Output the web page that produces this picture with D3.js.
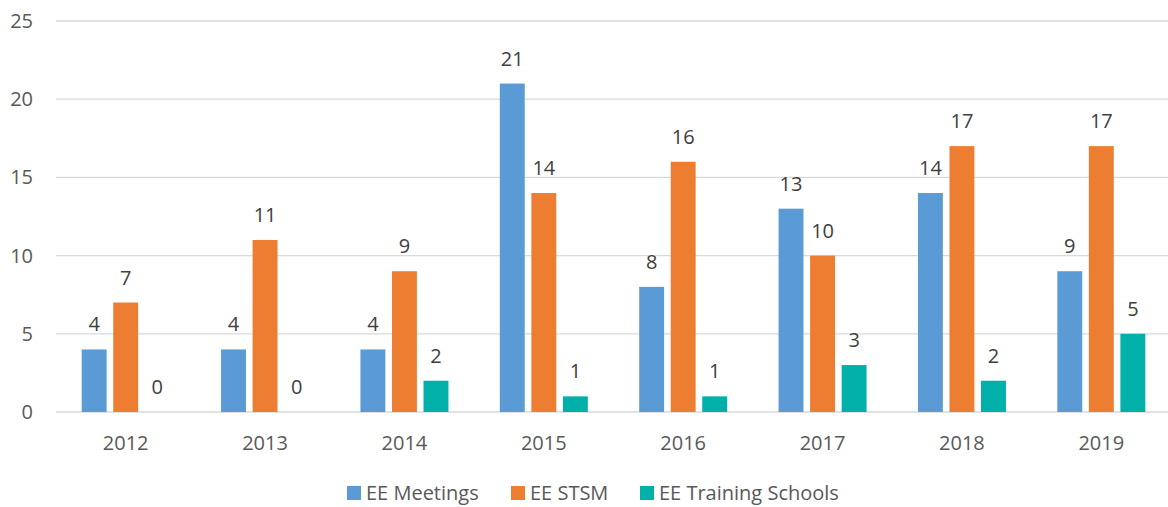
<!DOCTYPE html>
<html>
<head>
<meta charset="utf-8">
<script src="https://cdn.jsdelivr.net/npm/d3@7"></script>
<style>
  body { margin: 0; background: #fff; }
  svg text { font-family: "Open Sans", sans-serif; }
</style>
</head>
<body>
<svg id="chart" width="1168" height="507"></svg>
<script>
// data
const years = ["2012", "2013", "2014", "2015", "2016", "2017", "2018", "2019"];
const seriesNames = ["EE Meetings", "EE STSM", "EE Training Schools"];
const meetings = [4, 4, 4, 21, 8, 13, 14, 9];
const stsm = [7, 11, 9, 14, 16, 10, 17, 17];
const trainingSchools = [0, 0, 2, 1, 1, 3, 2, 5];
const yTicks = [0, 5, 10, 15, 20, 25];
const colors = ["#5B9BD5", "#ED7D31", "#00B0A9"];

const seriesValues = [meetings, stsm, trainingSchools];
const rows = years.map((y, i) => ({
    year: y,
    values: seriesNames.map((s, j) => ({ key: s, idx: j, value: seriesValues[j][i] }))
}));

const svg = d3.select("#chart");

// ---------------------------
// SCALES
// ---------------------------
const xScale = d3.scaleBand()
    .domain(years)
    .range([56, 1171]);

const xInner = d3.scaleBand()
    .domain(seriesNames)
    .range([xScale.bandwidth() / 2 - 44, xScale.bandwidth() / 2 + 44])
    .paddingInner(0.21);

const yScale = d3.scaleLinear()
    .domain([0, 25])
    .range([412, 21]);

// gridlines
svg.append("g")
    .selectAll("line")
    .data(yTicks)
    .join("line")
    .attr("x1", 56)
    .attr("x2", 1168)
    .attr("y1", d => yScale(d))
    .attr("y2", d => yScale(d))
    .attr("stroke", "#D9D9D9")
    .attr("stroke-width", 1.3);

// y axis labels
svg.append("g")
    .selectAll("text")
    .data(yTicks)
    .join("text")
    .attr("x", 33)
    .attr("y", d => yScale(d))
    .attr("dy", "0.35em")
    .attr("text-anchor", "end")
    .attr("font-size", "20px")
    .attr("fill", "#595959")
    .text(d => d);

// x axis labels
svg.append("g")
    .selectAll("text")
    .data(years)
    .join("text")
    .attr("x", d => xScale(d) + xScale.bandwidth() / 2)
    .attr("y", 450)
    .attr("text-anchor", "middle")
    .attr("font-size", "20px")
    .attr("fill", "#595959")
    .text(d => d);

// bars
const groups = svg.append("g")
    .selectAll("g")
    .data(rows)
    .join("g")
    .attr("transform", d => `translate(${xScale(d.year)},0)`);

groups.selectAll("rect")
    .data(d => d.values)
    .join("rect")
    .attr("x", d => xInner(d.key))
    .attr("width", xInner.bandwidth())
    .attr("y", d => yScale(d.value))
    .attr("height", d => yScale(0) - yScale(d.value))
    .attr("fill", d => colors[d.idx]);

// data labels
groups.selectAll("text")
    .data(d => d.values)
    .join("text")
    .attr("x", d => xInner(d.key) + xInner.bandwidth() / 2)
    .attr("y", d => yScale(d.value) - 18)
    .attr("text-anchor", "middle")
    .attr("font-size", "20px")
    .attr("fill", "#404040")
    .text(d => d.value);

// legend
const legendX = [347, 511, 640];
const legend = svg.append("g")
    .selectAll("g")
    .data(seriesNames)
    .join("g")
    .attr("transform", (d, i) => `translate(${legendX[i]},486)`);

legend.append("rect")
    .attr("width", 14)
    .attr("height", 14)
    .attr("fill", (d, i) => colors[i]);

legend.append("text")
    .attr("x", 19)
    .attr("y", 7)
    .attr("dy", "0.35em")
    .attr("font-size", "20px")
    .attr("fill", "#595959")
    .text(d => d);
</script>
</body>
</html>
